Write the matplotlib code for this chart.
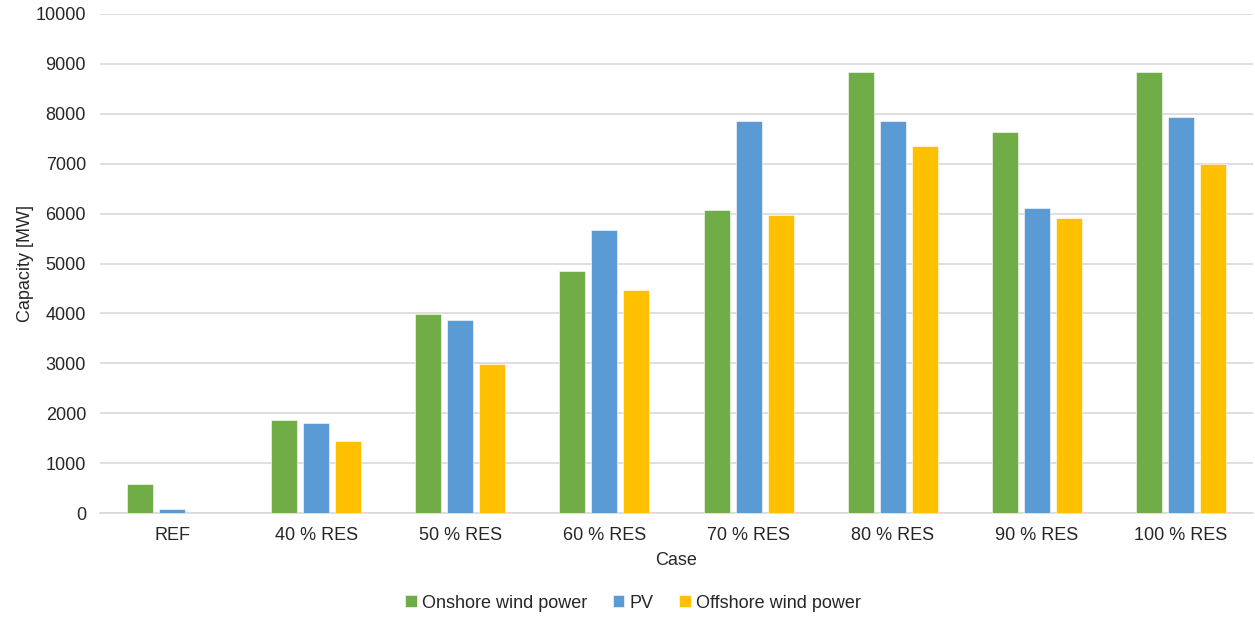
import matplotlib
matplotlib.use('Agg')
import matplotlib.pyplot as plt
import numpy as np

plt.rcParams['font.family'] = ['Liberation Sans', 'DejaVu Sans']

cases = ['REF', '40 % RES', '50 % RES', '60 % RES', '70 % RES',
         '80 % RES', '90 % RES', '100 % RES']
onshore = [588, 1866, 3986, 4845, 6074, 8831, 7628, 8831]
pv = [80, 1813, 3871, 5665, 7859, 7847, 6108, 7934]
offshore = [0, 1436, 2988, 4460, 5980, 7347, 5910, 6992]

series = [('Onshore wind power', onshore, '#70AD47'),
          ('PV', pv, '#5B9BD5'),
          ('Offshore wind power', offshore, '#FFC000')]

fig = plt.figure(figsize=(12.55, 6.17), dpi=100)
ax = fig.add_axes([100 / 1255, 1 - 513 / 617, 1153 / 1255, 499 / 617])

x = np.arange(len(cases))
w = 0.18
step = 0.222
for i, (name, vals, col) in enumerate(series):
    ax.bar(x + (i - 1) * step, vals, w, color=col, label=name,
           edgecolor='white', linewidth=0.4, zorder=3)

ax.set_xlim(-0.5, len(cases) - 0.5)
ax.set_ylim(0, 10000)
ax.set_yticks(np.arange(0, 10001, 1000))
ax.set_xticks(x)
ax.set_xticklabels(cases)
ax.yaxis.grid(True, color='#D9D9D9', linewidth=1.2, zorder=0)
for s in ['top', 'right', 'left']:
    ax.spines[s].set_visible(False)
ax.spines['bottom'].set_color('#D9D9D9')
ax.spines['bottom'].set_linewidth(1.2)
ax.tick_params(length=0, labelsize=13, colors='#262626')
ax.tick_params(axis='y', pad=10)
ax.tick_params(axis='x', pad=10)

ax.set_ylabel('Capacity [MW]', fontsize=13, color='#262626', labelpad=1)
ax.set_xlabel('Case', fontsize=13, color='#262626', labelpad=6)

fig.legend(loc='center', bbox_to_anchor=(633 / 1255, 1 - 603 / 617),
           ncol=3, frameon=False, fontsize=13, handlelength=0.65,
           handleheight=0.65, handletextpad=0.3, columnspacing=1.4,
           labelcolor='#262626')

plt.savefig('out.png', dpi=100)
